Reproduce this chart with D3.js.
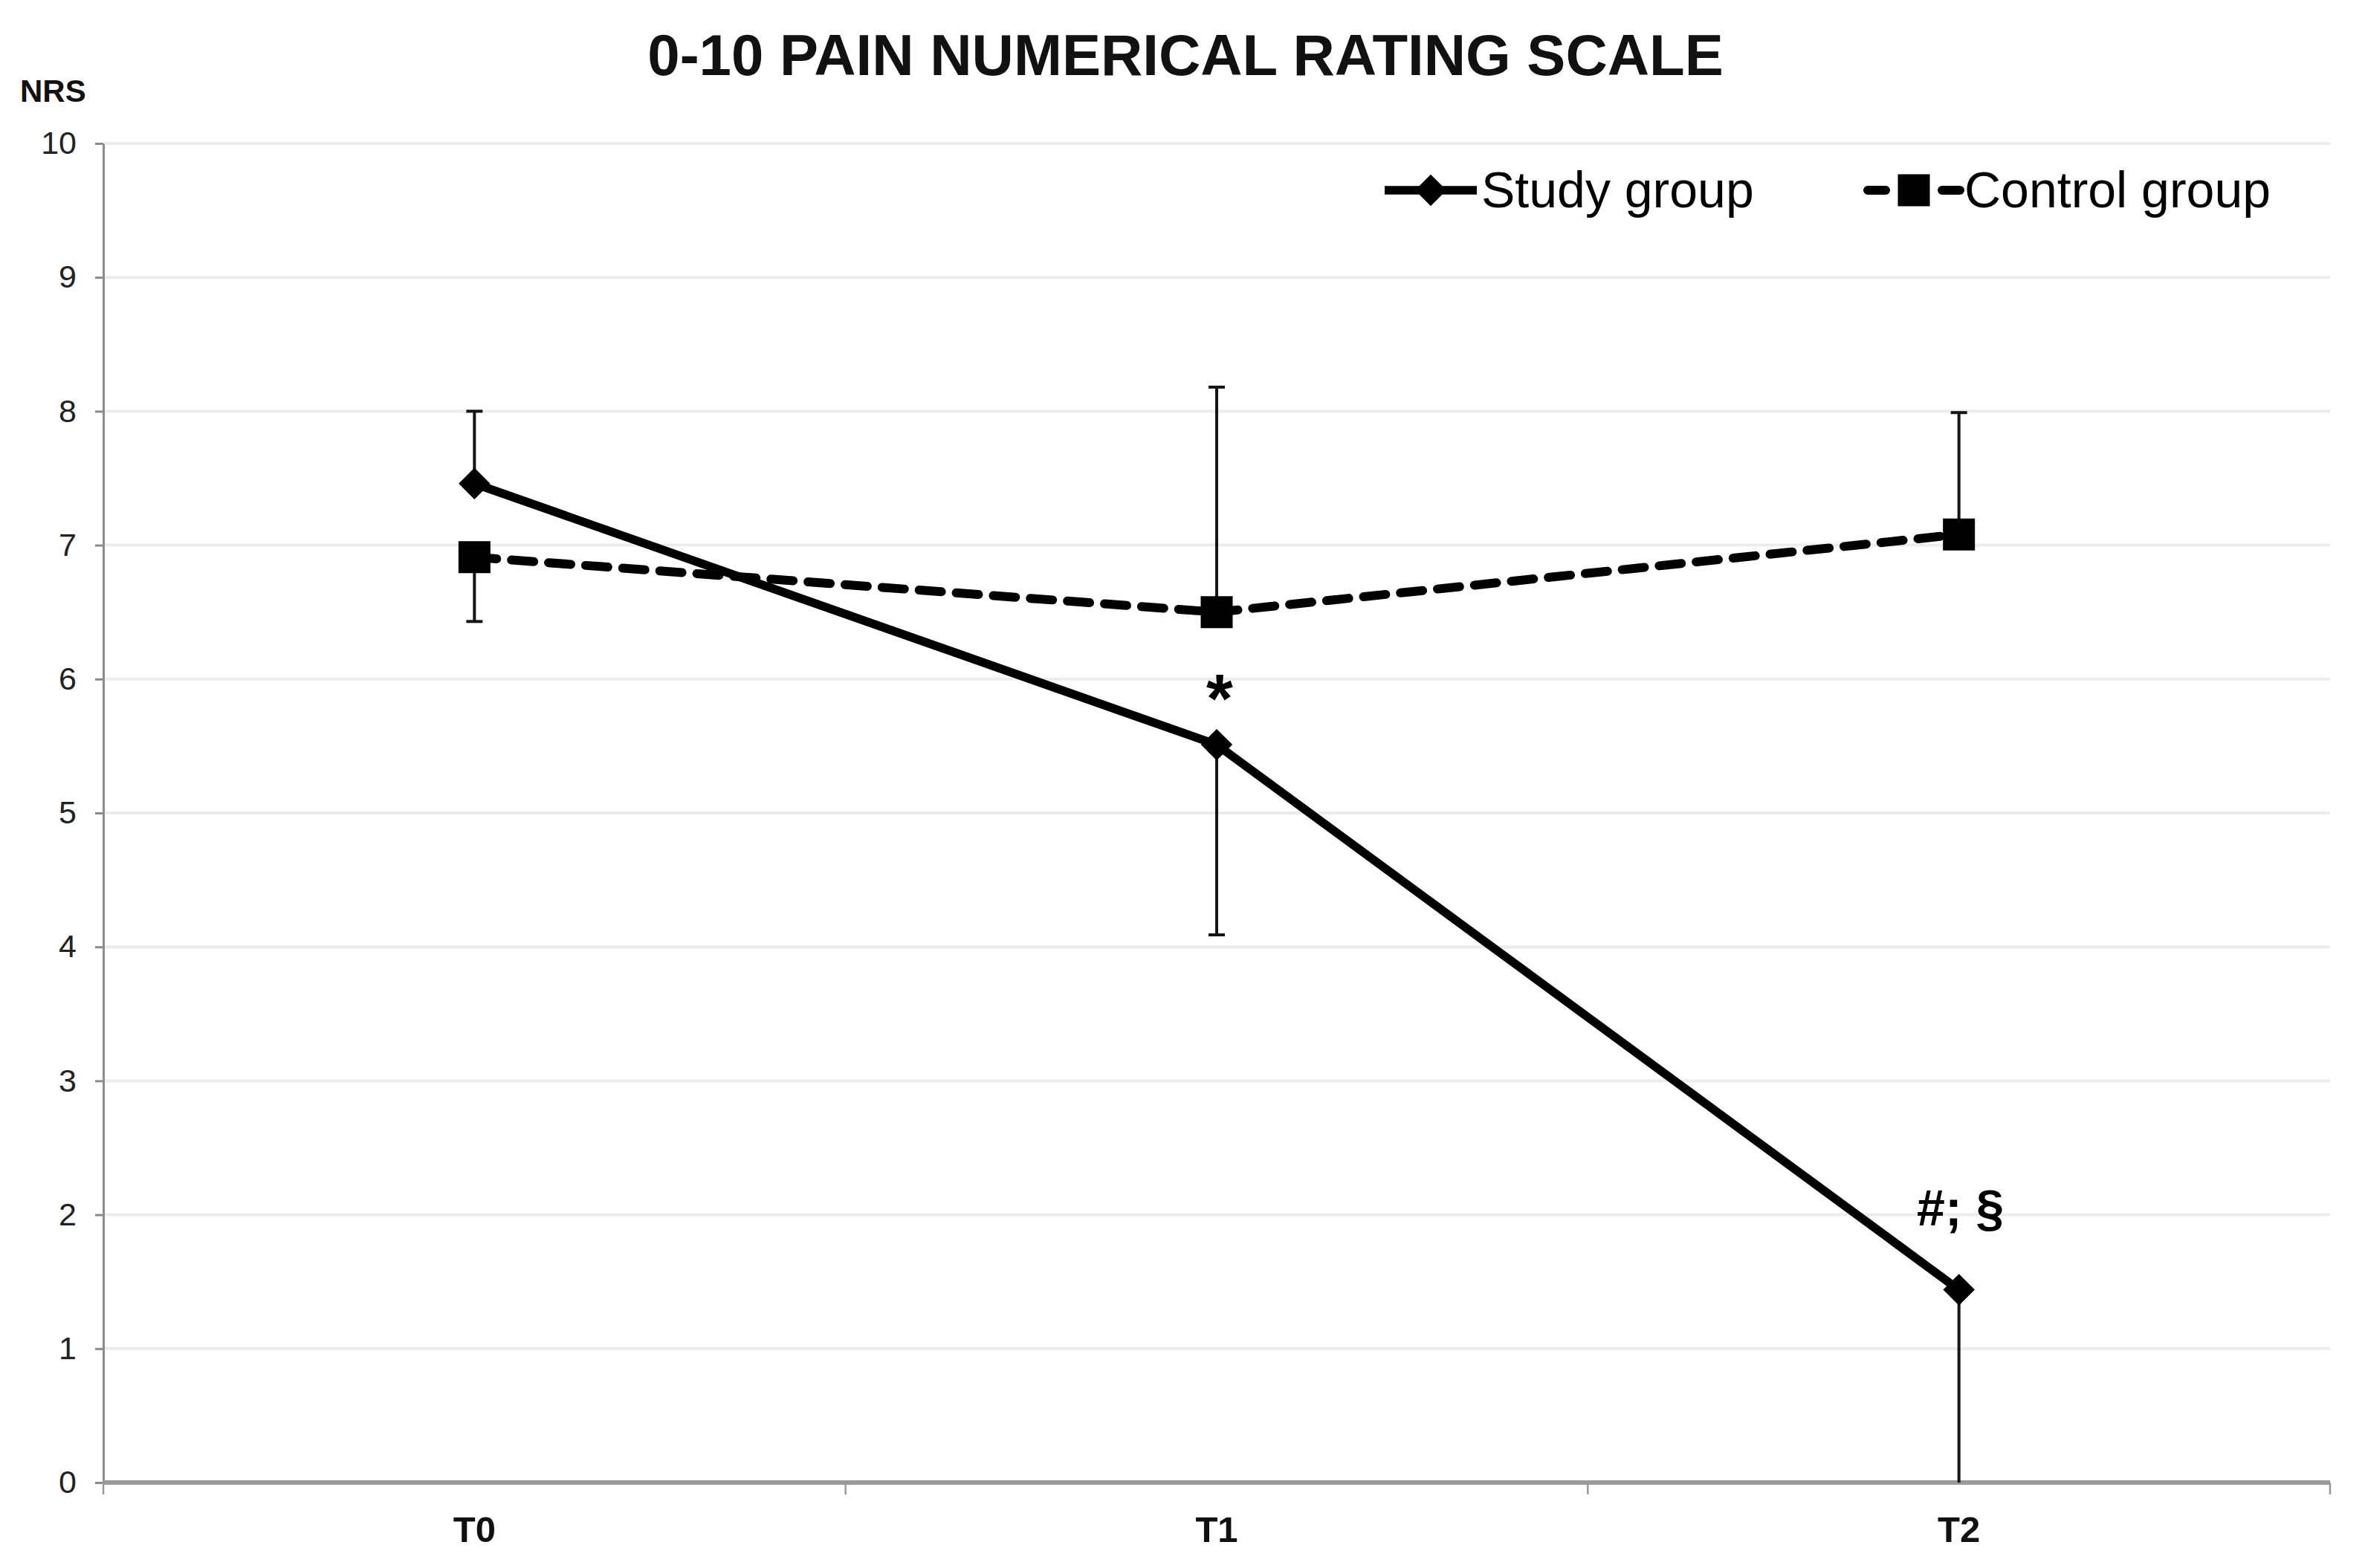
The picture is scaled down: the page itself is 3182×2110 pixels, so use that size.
<!DOCTYPE html>
<html>
<head>
<meta charset="utf-8">
<script src="https://cdn.jsdelivr.net/npm/d3@7"></script>
<style>
  body { margin: 0; background: #fff; }
  text { font-family: 'Liberation Sans', Arial, sans-serif; }
</style>
</head>
<body>
<svg id="chart"></svg>
<script>
// data
const categories = ['T0', 'T1', 'T2'];
const studyValues = [7.46, 5.51, 1.44];
const controlValues = [6.91, 6.5, 7.08];
// error bar ends (null = not drawn)
const studyErrUpper = [8.0, null, null];
const studyErrLower = [null, 4.09, 0];
const controlErrUpper = [null, 8.18, 7.99];
const controlErrLower = [6.43, null, null];
const yTicks = [0, 1, 2, 3, 4, 5, 6, 7, 8, 9, 10];
const annotationCats = ['T1', 'T2'];
const annotationTexts = ['*', '#; §'];
const seriesNames = ['Study group', 'Control group'];

const width = 3182;
const height = 2110;
const margin = { top: 193, right: 47, bottom: 115, left: 139 };

const svg = d3.select('#chart').attr('width', width).attr('height', height);

const x = d3.scaleBand()
  .domain(categories)
  .range([margin.left, width - margin.right])
  .padding(0);
const cx = (c) => x(c) + x.bandwidth() / 2;

const y = d3.scaleLinear()
  .domain([0, 10])
  .range([height - margin.bottom, margin.top]);

// title
svg.append('text')
  .attr('x', 1595)
  .attr('y', 101)
  .attr('text-anchor', 'middle')
  .attr('font-size', 78)
  .attr('font-weight', 'bold')
  .attr('fill', '#111')
  .text('0-10 PAIN NUMERICAL RATING SCALE');

// y axis label
svg.append('text')
  .attr('x', 27)
  .attr('y', 137)
  .attr('font-size', 42)
  .attr('font-weight', 'bold')
  .attr('fill', '#111')
  .text('NRS');

// gridlines
svg.append('g')
  .selectAll('line')
  .data(yTicks.filter((d) => d > 0))
  .join('line')
  .attr('x1', margin.left)
  .attr('x2', width - margin.right)
  .attr('y1', (d) => y(d))
  .attr('y2', (d) => y(d))
  .attr('stroke', '#ececec')
  .attr('stroke-width', 4);

// y axis
const yAxis = svg.append('g')
  .attr('transform', `translate(${margin.left},0)`)
  .call(d3.axisLeft(y).tickValues(yTicks).tickSize(11).tickPadding(25).tickSizeOuter(0));
yAxis.select('.domain').attr('stroke', '#8c8c8c').attr('stroke-width', 3);
yAxis.selectAll('.tick line').attr('stroke', '#8c8c8c').attr('stroke-width', 3);
yAxis.selectAll('.tick text')
  .attr('font-size', 43)
  .attr('fill', '#222')
  .attr('font-family', "'Liberation Sans', Arial, sans-serif");

// x axis
const xAxis = svg.append('g');
xAxis.append('line')
  .attr('x1', margin.left)
  .attr('x2', width - margin.right)
  .attr('y1', y(0))
  .attr('y2', y(0))
  .attr('stroke', '#9a9a9a')
  .attr('stroke-width', 6);
xAxis.selectAll('.xtick')
  .data(categories.map((c) => x(c)).concat([x.range()[1]]))
  .join('line')
  .attr('class', 'xtick')
  .attr('x1', (d) => d)
  .attr('x2', (d) => d)
  .attr('y1', y(0))
  .attr('y2', y(0) + 16)
  .attr('stroke', '#999')
  .attr('stroke-width', 2.5);
xAxis.selectAll('.xlabel')
  .data(categories)
  .join('text')
  .attr('class', 'xlabel')
  .attr('x', (d) => cx(d))
  .attr('y', y(0) + 80)
  .attr('text-anchor', 'middle')
  .attr('font-size', 49)
  .attr('font-weight', 'bold')
  .attr('fill', '#111')
  .text((d) => d);

// error bars
const errData = [];
categories.forEach((c, i) => {
  [
    [studyValues[i], studyErrUpper[i]],
    [studyValues[i], studyErrLower[i]],
    [controlValues[i], controlErrUpper[i]],
    [controlValues[i], controlErrLower[i]],
  ].forEach(([v, e]) => {
    if (e !== null) errData.push({ cat: c, from: v, to: e });
  });
});
const errG = svg.append('g');
errG.selectAll('.err')
  .data(errData)
  .join('line')
  .attr('x1', (d) => cx(d.cat))
  .attr('x2', (d) => cx(d.cat))
  .attr('y1', (d) => y(d.from))
  .attr('y2', (d) => y(d.to))
  .attr('stroke', '#151515')
  .attr('stroke-width', 4);
errG.selectAll('.cap')
  .data(errData.filter((d) => d.to > 0))
  .join('line')
  .attr('x1', (d) => cx(d.cat) - 11)
  .attr('x2', (d) => cx(d.cat) + 11)
  .attr('y1', (d) => y(d.to))
  .attr('y2', (d) => y(d.to))
  .attr('stroke', '#151515')
  .attr('stroke-width', 4);

// lines
const line = d3.line()
  .x((d) => cx(d[0]))
  .y((d) => y(d[1]));

svg.append('path')
  .datum(categories.map((c, i) => [c, controlValues[i]]))
  .attr('d', line)
  .attr('fill', 'none')
  .attr('stroke', '#000')
  .attr('stroke-width', 12)
  .attr('stroke-dasharray', '30 20')
  .attr('stroke-linecap', 'round');

svg.append('path')
  .datum(categories.map((c, i) => [c, studyValues[i]]))
  .attr('d', line)
  .attr('fill', 'none')
  .attr('stroke', '#000')
  .attr('stroke-width', 11.5)
  .attr('stroke-linejoin', 'round');

// markers
const diamond = d3.symbol().type(d3.symbolSquare).size(900);
const square = d3.symbol().type(d3.symbolSquare).size(1849);

svg.append('g')
  .selectAll('path')
  .data(categories)
  .join('path')
  .attr('d', diamond)
  .attr('transform', (d, i) => `translate(${cx(d)},${y(studyValues[i])}) rotate(45)`)
  .attr('fill', '#000');

svg.append('g')
  .selectAll('path')
  .data(categories)
  .join('path')
  .attr('d', square)
  .attr('transform', (d, i) => `translate(${cx(d)},${y(controlValues[i])})`)
  .attr('fill', '#000');

// significance annotations above the study group
svg.append('g')
  .selectAll('text')
  .data(annotationCats)
  .join('text')
  .attr('x', (d) => cx(d) + (d === 'T1' ? 4 : 2))
  .attr('y', (d, i) => {
    const v = studyValues[categories.indexOf(d)];
    return y(v) - (d === 'T1' ? 30 : 87);
  })
  .attr('text-anchor', 'middle')
  .attr('font-size', (d) => (d === 'T1' ? 92 : 68))
  .attr('font-weight', 'bold')
  .attr('fill', '#000')
  .text((d, i) => annotationTexts[i]);

// legend
const legend = svg.append('g').attr('transform', 'translate(0,256)');
const legendX = [1863, 2513];
const legendLine = 124;

seriesNames.forEach((name, i) => {
  const g = legend.append('g').attr('transform', `translate(${legendX[i]},0)`);
  g.append('line')
    .attr('x1', 0)
    .attr('x2', legendLine)
    .attr('stroke', '#000')
    .attr('stroke-width', i === 0 ? 11.5 : 12)
    .attr('stroke-dasharray', i === 0 ? null : '24 26')
    .attr('stroke-linecap', i === 0 ? 'butt' : 'round');
  g.append('path')
    .attr('d', i === 0 ? diamond : square)
    .attr('transform', `translate(${legendLine / 2},0)` + (i === 0 ? ' rotate(45)' : ''))
    .attr('fill', '#000');
  g.append('text')
    .attr('x', legendLine + 6)
    .attr('y', 23)
    .attr('font-size', 68)
    .attr('fill', '#000')
    .text(name);
});
</script>
</body>
</html>
